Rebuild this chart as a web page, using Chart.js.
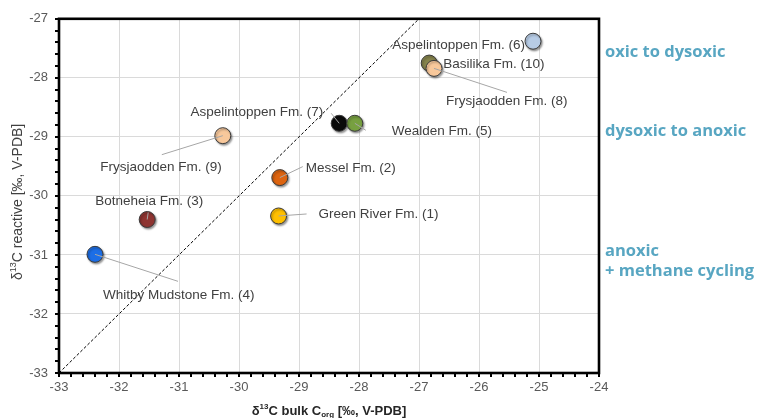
<!DOCTYPE html>
<html>
<head>
<meta charset="utf-8">
<script src="https://cdn.jsdelivr.net/npm/chart.js@4/dist/chart.umd.min.js"></script>
<style>
  html, body { margin: 0; padding: 0; background: #ffffff; }
  #wrap { position: relative; width: 761px; height: 418px; }
</style>
</head>
<body>
<div id="wrap"><canvas id="c" width="761" height="418"></canvas></div>
<script>
// Formations (drawing order: later entries sit on top)
const formations = [
  'Green River Fm. (1)',
  'Messel Fm. (2)',
  'Botneheia Fm. (3)',
  'Whitby Mudstone Fm. (4)',
  'Aspelintoppen Fm. (7)',
  'Wealden Fm. (5)',
  'Aspelintoppen Fm. (6)',
  'Basilika Fm. (10)',
  'Frysjaodden Fm. (8)',
  'Frysjaodden Fm. (9)'
];
// δ13C bulk Corg [‰, V-PDB]
const bulkCorg = [-29.34, -29.32, -31.53, -32.40, -28.33, -28.07, -25.10, -26.83, -26.75, -30.27];
// δ13C reactive [‰, V-PDB]
const reactive = [-30.34, -29.69, -30.40, -30.99, -28.77, -28.77, -27.38, -27.75, -27.84, -28.98];
// marker fill per formation
const markerColors = ['#ffc000', '#dd6410', '#8e3431', '#1c6ee6', '#0a0a0a', '#77a040', '#b7cce6', '#85834c', '#f8c89b', '#f8c89b'];

// axis ranges / ticks
const xRange = [-33, -24];
const yRange = [-33, -27];
// 1:1 reference line
const oneToOne = [-33, -27];
// redox zone annotations on the right
const zoneLabels = ['oxic to dysoxic', 'dysoxic to anoxic', 'anoxic', '+ methane cycling'];
const zoneLevels = [-27.56, -28.91, -30.93, -31.28];

// label placement relative to each marker (pixels): text offset, alignment, leader end
const labelLayout = [
  { dx: 40, dy: -2, align: 'left', lead: [28, -2] },
  { dx: 26, dy: -9, align: 'left', lead: [23, -11] },
  { dx: 2, dy: -18, align: 'center', lead: [1, -7] },
  { dx: 8, dy: 41, align: 'left', lead: [83, 27] },
  { dx: -16, dy: -11, align: 'right', lead: [-8, -10] },
  { dx: 37, dy: 8, align: 'left', lead: [11, 7] },
  { dx: -8, dy: 4, align: 'right', lead: null },
  { dx: 14, dy: 1, align: 'left', lead: null },
  { dx: 12, dy: 33, align: 'left', lead: [73, 24] },
  { dx: -1, dy: 32, align: 'right', lead: [-61, 19] }
];

const FONT = '"Liberation Sans", Arial, sans-serif';

const points = bulkCorg.map((x, i) => ({ x: x, y: reactive[i] }));

// soft drop shadow under the markers only
const markerShadow = {
  id: 'markerShadow',
  beforeDatasetDraw(chart, args) {
    if (args.index !== 0) return;
    const ctx = chart.ctx;
    ctx.save();
    ctx.shadowColor = 'rgba(0,0,0,0.40)';
    ctx.shadowBlur = 2;
    ctx.shadowOffsetX = 1.2;
    ctx.shadowOffsetY = 1.5;
  },
  afterDatasetDraw(chart, args) {
    if (args.index !== 0) return;
    chart.ctx.restore();
  }
};

// data labels with leader lines
const dataLabels = {
  id: 'dataLabels',
  afterDatasetsDraw(chart) {
    const ctx = chart.ctx;
    const meta = chart.getDatasetMeta(0);
    ctx.save();
    meta.data.forEach((el, i) => {
      const L = labelLayout[i];
      if (L.lead) {
        ctx.beginPath();
        ctx.strokeStyle = '#a6a6a6';
        ctx.lineWidth = 1;
        ctx.moveTo(el.x, el.y);
        ctx.lineTo(el.x + L.lead[0], el.y + L.lead[1]);
        ctx.stroke();
      }
      ctx.font = '13.5px ' + FONT;
      ctx.fillStyle = '#404040';
      ctx.textAlign = L.align;
      ctx.textBaseline = 'middle';
      ctx.fillText(formations[i], el.x + L.dx, el.y + L.dy);
    });
    ctx.restore();
  }
};

// draw a run of text pieces (normal / superscript / subscript) centred on 0
function drawRich(ctx, parts, color) {
  let total = 0;
  parts.forEach(p => { ctx.font = p.font; p.w = ctx.measureText(p.t).width; total += p.w; });
  let x = -total / 2;
  ctx.fillStyle = color;
  ctx.textAlign = 'left';
  ctx.textBaseline = 'middle';
  parts.forEach(p => { ctx.font = p.font; ctx.fillText(p.t, x, p.dy || 0); x += p.w; });
}

// frame, outside tick marks, axis titles and zone notes
const frameAndTitles = {
  id: 'frameAndTitles',
  afterDraw(chart) {
    const ctx = chart.ctx;
    const a = chart.chartArea;
    const xs = chart.scales.x, ys = chart.scales.y;
    ctx.save();
    // tick marks every 0.2
    ctx.strokeStyle = '#000';
    ctx.lineWidth = 2;
    for (let i = 0; i <= 45; i++) {
      const v = xRange[0] + i * 0.2;
      const px = Math.round(xs.getPixelForValue(v));
      ctx.beginPath(); ctx.moveTo(px, a.bottom); ctx.lineTo(px, a.bottom + 4); ctx.stroke();
    }
    for (let i = 0; i <= 30; i++) {
      const v = yRange[0] + i * 0.2;
      const py = Math.round(ys.getPixelForValue(v));
      ctx.beginPath(); ctx.moveTo(a.left, py); ctx.lineTo(a.left - 4, py); ctx.stroke();
    }
    // frame
    ctx.lineWidth = 2.6;
    ctx.strokeRect(a.left, a.top, a.right - a.left, a.bottom - a.top);

    // x title
    ctx.save();
    ctx.translate((a.left + a.right) / 2, 411);
    drawRich(ctx, [
      { t: 'δ', font: 'bold 13px ' + FONT },
      { t: '13', font: 'bold 8px ' + FONT, dy: -4 },
      { t: 'C bulk C', font: 'bold 13px ' + FONT },
      { t: 'org', font: 'bold 8px ' + FONT, dy: 4 },
      { t: ' [‰, V-PDB]', font: 'bold 13px ' + FONT }
    ], '#262626');
    ctx.restore();

    // y title
    ctx.save();
    ctx.translate(18, (a.top + a.bottom) / 2 + 6);
    ctx.rotate(-Math.PI / 2);
    drawRich(ctx, [
      { t: 'δ', font: '14px ' + FONT },
      { t: '13', font: '9px ' + FONT, dy: -4 },
      { t: 'C reactive [‰, V-PDB]', font: '14px ' + FONT }
    ], '#404040');
    ctx.restore();

    // zone notes
    ctx.font = 'bold 16.5px "Open Sans", sans-serif';
    ctx.fillStyle = '#58a6c2';
    ctx.textAlign = 'left';
    ctx.textBaseline = 'middle';
    zoneLabels.forEach((t, i) => {
      ctx.fillText(t, a.right + 6, ys.getPixelForValue(zoneLevels[i]));
    });
    ctx.restore();
  }
};

new Chart(document.getElementById('c'), {
  type: 'scatter',
  data: {
    datasets: [
      {
        type: 'scatter',
        order: 1,
        data: points,
        backgroundColor: markerColors,
        borderColor: '#3a3a3a',
        borderWidth: 1,
        pointRadius: 8,
        pointHoverRadius: 8
      },
      {
        type: 'line',
        order: 2,
        data: oneToOne.map(v => ({ x: v, y: v })),
        borderColor: '#000000',
        borderWidth: 1,
        borderDash: [3, 2],
        pointRadius: 0,
        fill: false
      }
    ]
  },
  options: {
    responsive: false,
    animation: false,
    layout: { padding: { top: 17, right: 162, left: 0, bottom: 0 } },
    plugins: { legend: { display: false }, tooltip: { enabled: false } },
    scales: {
      x: {
        type: 'linear',
        min: xRange[0], max: xRange[1],
        afterFit(s) { s.height = 45; },
        ticks: { stepSize: 1, padding: 7, color: '#595959', font: { size: 13, family: FONT } },
        grid: { color: '#dadada', lineWidth: 1, drawTicks: false },
        border: { display: false },
        title: { display: false }
      },
      y: {
        type: 'linear',
        min: yRange[0], max: yRange[1],
        afterFit(s) { s.width = 59; },
        ticks: { stepSize: 1, padding: 11, color: '#595959', font: { size: 13, family: FONT } },
        grid: { color: '#dadada', lineWidth: 1, drawTicks: false },
        border: { display: false },
        title: { display: false }
      }
    }
  },
  plugins: [markerShadow, dataLabels, frameAndTitles]
});
</script>
</body>
</html>
